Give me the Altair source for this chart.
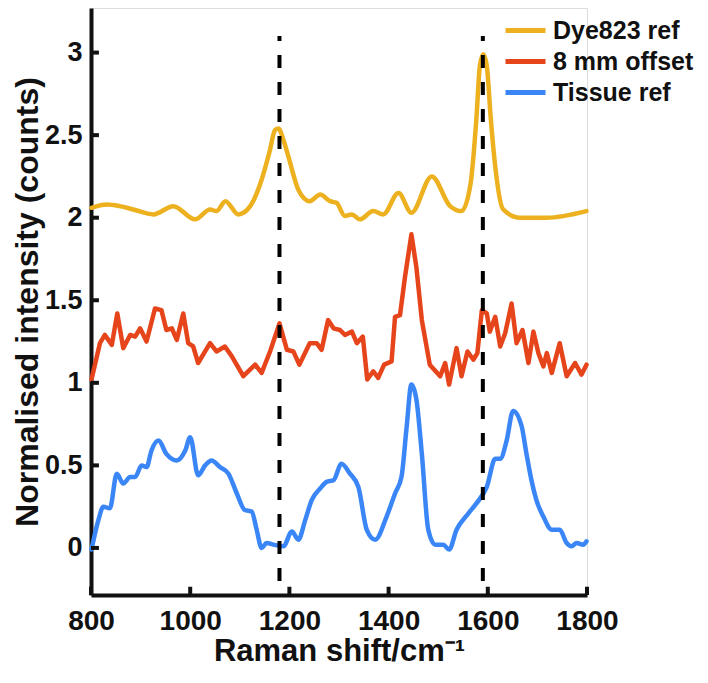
import altair as alt
import pandas as pd

# ---------------- data ----------------
series_names = ["Dye823 ref", "8 mm offset", "Tissue ref"]
series_colors = ["#EDB120", "#E6441B", "#3A86F7"]

dye_x = [801, 832, 858, 885, 926, 966, 1010, 1040, 1053, 1071, 1097, 1121, 1144, 1160, 1171, 1178,
         1188, 1198, 1218, 1241, 1262, 1282, 1295, 1312, 1326, 1342, 1369, 1389, 1420, 1446, 1487,
         1524, 1547, 1565, 1577, 1584, 1591, 1598, 1606, 1615, 1631, 1665, 1719, 1799]
dye_y = [2.06, 2.08, 2.07, 2.05, 2.02, 2.07, 1.99, 2.05, 2.04, 2.10, 2.02, 2.07, 2.23, 2.40, 2.53, 2.54,
         2.47, 2.37, 2.17, 2.10, 2.14, 2.10, 2.09, 2.01, 2.02, 1.99, 2.04, 2.02, 2.15, 2.03, 2.25,
         2.07, 2.04, 2.20, 2.60, 2.92, 2.99, 2.92, 2.60, 2.31, 2.05, 2.00, 2.00, 2.04]

off_x = [801, 818, 828, 842, 853, 865, 879, 889, 899, 912, 929, 942, 952, 963, 973, 986, 996,
         1006, 1016, 1040, 1053, 1070, 1084, 1107, 1131, 1144, 1161, 1180, 1195, 1208, 1220,
         1241, 1255, 1265, 1278, 1289, 1302, 1312, 1326, 1336, 1348, 1357, 1369, 1379, 1391,
         1406, 1413, 1423, 1433, 1446, 1456, 1467, 1483, 1504, 1514, 1522, 1537, 1547, 1559,
         1571, 1579, 1588, 1598, 1604, 1615, 1625, 1635, 1648, 1658, 1670, 1682, 1692, 1702,
         1712, 1719, 1729, 1745, 1759, 1776, 1789, 1799]
off_y = [1.02, 1.24, 1.29, 1.23, 1.42, 1.21, 1.29, 1.28, 1.33, 1.25, 1.45, 1.44, 1.32, 1.33,
         1.26, 1.42, 1.24, 1.22, 1.12, 1.24, 1.19, 1.22, 1.16, 1.04, 1.11, 1.06, 1.19, 1.36,
         1.20, 1.19, 1.11, 1.24, 1.24, 1.20, 1.38, 1.33, 1.32, 1.29, 1.31, 1.24, 1.28, 1.02,
         1.07, 1.03, 1.11, 1.13, 1.40, 1.41, 1.64, 1.90, 1.70, 1.38, 1.11, 1.04, 1.12, 0.99,
         1.21, 1.04, 1.19, 1.14, 1.18, 1.44, 1.42, 1.31, 1.40, 1.22, 1.30, 1.48, 1.24, 1.32,
         1.12, 1.31, 1.18, 1.10, 1.18, 1.06, 1.24, 1.04, 1.12, 1.05, 1.11]

tis_x = [801, 815, 825, 838, 852, 865, 879, 889, 902, 912, 922, 936, 952, 973, 990, 1000, 1016,
         1030, 1043, 1060, 1077, 1094, 1110, 1124, 1134, 1144, 1154, 1168, 1188, 1205, 1218,
         1232, 1245, 1262, 1275, 1289, 1305, 1322, 1339, 1356, 1373, 1396, 1413, 1426, 1436,
         1446, 1456, 1467, 1480, 1494, 1510, 1522, 1537, 1561, 1577, 1598, 1615, 1625, 1638,
         1651, 1668, 1678, 1688, 1698, 1712, 1729, 1745, 1759, 1769, 1779, 1792, 1799]
tis_y = [-0.01, 0.17, 0.25, 0.24, 0.45, 0.39, 0.43, 0.43, 0.50, 0.49, 0.59, 0.65, 0.57, 0.53,
         0.59, 0.67, 0.44, 0.50, 0.53, 0.49, 0.45, 0.33, 0.23, 0.22, 0.11, 0.00, 0.03, 0.02,
         0.01, 0.10, 0.05, 0.17, 0.29, 0.36, 0.40, 0.41, 0.51, 0.45, 0.37, 0.11, 0.05, 0.19,
         0.33, 0.43, 0.72, 0.99, 0.90, 0.57, 0.11, 0.02, 0.02, -0.01, 0.11, 0.21, 0.27, 0.37,
         0.54, 0.54, 0.65, 0.83, 0.74, 0.57, 0.41, 0.29, 0.19, 0.11, 0.11, 0.03, 0.01, 0.03,
         0.02, 0.04]

marker_x = [1180, 1590]
x_ticks = [800, 1000, 1200, 1400, 1600, 1800]
y_ticks = [0, 0.5, 1, 1.5, 2, 2.5, 3]

X_DOMAIN = [800, 1800]
Y_DOMAIN = [-0.285, 3.27]
FONT = "Liberation Sans"
INK = "#111111"

rows = []
for name, xs, ys in [(series_names[0], dye_x, dye_y),
                     (series_names[1], off_x, off_y),
                     (series_names[2], tis_x, tis_y)]:
    for i, (a, b) in enumerate(zip(xs, ys)):
        rows.append({"series": name, "shift": a, "intensity": b, "order": i,
                     "smooth": name != series_names[1]})
df = pd.DataFrame(rows)

xscale = alt.Scale(domain=X_DOMAIN, nice=False, zero=False)
yscale = alt.Scale(domain=Y_DOMAIN, nice=False, zero=False)

x_axis = alt.Axis(values=x_ticks, format="d", ticks=False, grid=False,
                  labelFlush=False, labelOverlap=False,
                  domainColor=INK, domainWidth=4,
                  labelFont=FONT, labelFontWeight="bold", labelFontSize=28,
                  labelColor=INK, labelPadding=12,
                  title="Raman shift/cm\u207b\u00b9", titleFont=FONT, titleFontWeight="bold",
                  titleFontSize=31, titleColor=INK, titlePadding=1.5)
y_axis = alt.Axis(values=y_ticks, format="~g", ticks=False, grid=False,
                  labelFlush=False, labelOverlap=False,
                  domainColor=INK, domainWidth=4,
                  labelFont=FONT, labelFontWeight="bold", labelFontSize=27,
                  labelColor=INK, labelPadding=9,
                  title="Normalised intensity (counts)", titleFont=FONT,
                  titleFontWeight="bold", titleFontSize=32, titleColor=INK,
                  titlePadding=0)

color_enc = alt.Color("series:N", sort=series_names,
                      scale=alt.Scale(domain=series_names, range=series_colors),
                      legend=alt.Legend(orient="none", legendX=422, legendY=10, title=None,
                                        symbolType="M-2,0H2", symbolSize=400,
                                        symbolStrokeWidth=5, labelOffset=15,
                                        labelFont=FONT, labelFontWeight="bold",
                                        labelFontSize=25, labelColor=INK,
                                        rowPadding=5, padding=0, labelLimit=300))

base = alt.Chart(df).encode(
    x=alt.X("shift:Q", scale=xscale, axis=x_axis),
    y=alt.Y("intensity:Q", scale=yscale, axis=y_axis),
    color=color_enc,
    order="order:Q",
)
smooth_lines = base.transform_filter("datum.smooth").mark_line(
    strokeWidth=4.5, strokeJoin="round", strokeCap="round", interpolate="monotone")
rough_lines = base.transform_filter("!datum.smooth").mark_line(
    strokeWidth=4.5, strokeJoin="round", strokeCap="round")

marker_df = pd.DataFrame({"x": marker_x, "y0": [-0.2] * len(marker_x), "y1": [3.1] * len(marker_x)})
markers = alt.Chart(marker_df).mark_rule(color="black", strokeWidth=4, strokeDash=[13, 14]).encode(
    x=alt.X("x:Q", scale=xscale), y=alt.Y("y0:Q", scale=yscale), y2="y1:Q")

# inward-pointing tick marks
xt_df = pd.DataFrame({"x": x_ticks, "y0": [Y_DOMAIN[0]] * len(x_ticks),
                      "y1": [Y_DOMAIN[0] + 0.05] * len(x_ticks)})
xticks = alt.Chart(xt_df).mark_rule(color=INK, strokeWidth=4).encode(
    x=alt.X("x:Q", scale=xscale), y=alt.Y("y0:Q", scale=yscale), y2="y1:Q")
yt_df = pd.DataFrame({"y": y_ticks, "x0": [X_DOMAIN[0]] * len(y_ticks),
                      "x1": [X_DOMAIN[0] + 16] * len(y_ticks)})
yticks = alt.Chart(yt_df).mark_rule(color=INK, strokeWidth=4).encode(
    y=alt.Y("y:Q", scale=yscale), x=alt.X("x0:Q", scale=xscale), x2="x1:Q")

chart = alt.layer(rough_lines, smooth_lines, markers, xticks, yticks).properties(
    width=496, height=587,
    autosize=alt.AutoSizeParams(type="none"),
    padding={"left": 83, "top": 0, "right": 113, "bottom": 80},
).configure_view(stroke=None).configure(background="white")

chart.save("out.html", embed_options={"renderer": "svg", "actions": False})
